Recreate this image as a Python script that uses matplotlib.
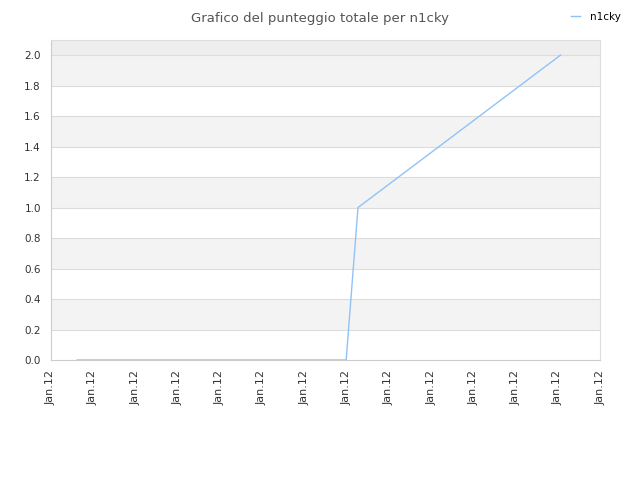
import matplotlib
matplotlib.use("Agg")
import matplotlib.pyplot as plt

# data
x_vals = [0.63, 6.99, 7.27, 12.06]
scores = [0.0, 0.0, 1.0, 2.0]
tick_pos = list(range(14))
tick_labels = ["Jan.12"] * 14
y_ticks = [0.0, 0.2, 0.4, 0.6, 0.8, 1.0, 1.2, 1.4, 1.6, 1.8, 2.0]
series_name = "n1cky"
title = "Grafico del punteggio totale per n1cky"

fig = plt.figure(figsize=(6.4, 4.8), dpi=100)
ax = fig.add_axes([0.079, 0.25, 0.859, 0.667])
ax.set_xlim(0, 13)
ax.set_ylim(0, 2.1)

# alternating bands
for i in range(len(y_ticks) - 1):
    if i % 2 == 1:
        ax.axhspan(y_ticks[i], y_ticks[i + 1], color="#f3f3f3", zorder=0, lw=0)
ax.axhspan(2.0, 2.1, color="#eeeeee", zorder=0, lw=0)
for y in y_ticks[1:]:
    ax.axhline(y, color="#dcdcdc", lw=0.8, zorder=1)

ax.plot(x_vals, scores, color="#90c3f5", lw=1.0, label=series_name, zorder=3)

ax.set_yticks(y_ticks)
ax.set_yticklabels([f"{v:.1f}" for v in y_ticks], fontsize=7.5, color="#333333")
ax.set_xticks(tick_pos)
ax.set_xticklabels(tick_labels, rotation=90, fontsize=8, color="#333333")
ax.tick_params(length=0, pad=7)
for s in ax.spines.values():
    s.set_color("#dddddd")
    s.set_linewidth(0.8)
ax.spines["left"].set_color("#cccccc")
ax.spines["bottom"].set_color("#cccccc")

fig.text(0.5, 0.975, title, ha="center", va="top", fontsize=9.5, color="#555555")
leg = fig.legend(loc="upper right", bbox_to_anchor=(0.985, 0.995), frameon=False,
                 fontsize=7.5, handlelength=0.8, handletextpad=1.0)

fig.savefig("out.png", dpi=100)
